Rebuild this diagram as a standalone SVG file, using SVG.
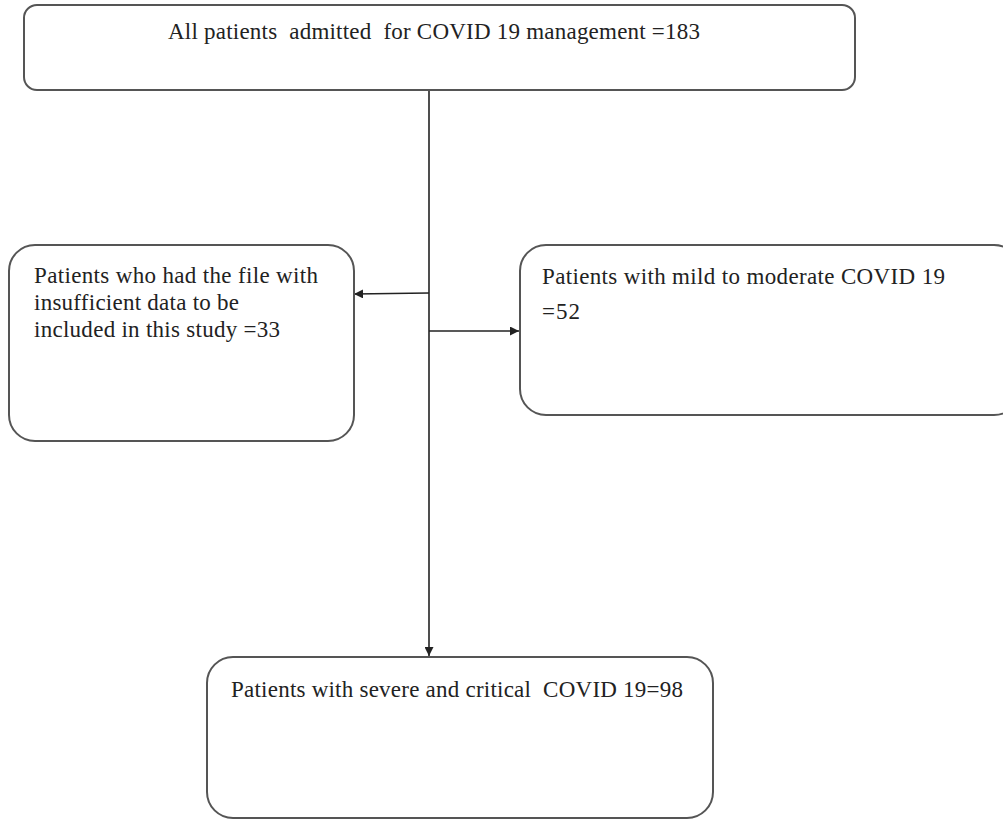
<svg xmlns="http://www.w3.org/2000/svg" width="1003" height="820" viewBox="0 0 1003 820">
<style>
.box{fill:#fff;stroke:#555;stroke-width:2}
.t{font-family:'Liberation Serif','DejaVu Serif',serif;font-size:23px;fill:#222}
.c{stroke:#222;stroke-width:1.6;fill:none}
</style>
<defs>
<marker id="ah" viewBox="0 0 10 10" refX="10" refY="5" markerWidth="9" markerHeight="9" markerUnits="userSpaceOnUse" orient="auto">
<path d="M0,0L10,5L0,10z" fill="#222"/>
</marker>
</defs>
<rect width="1003" height="820" fill="#fff"/>
<g id="connectors">
<line class="c" x1="429" y1="90" x2="429" y2="656" marker-end="url(#ah)"/>
<line class="c" x1="429" y1="293" x2="354" y2="294" marker-end="url(#ah)"/>
<line class="c" x1="429" y1="331" x2="519" y2="331" marker-end="url(#ah)"/>
</g>
<g id="n-all">
<rect class="box" x="24" y="5" width="831" height="85" rx="13"/>
<text class="t" x="168" y="39" textLength="532" xml:space="preserve">All patients  admitted  for COVID 19 management =183</text>
</g>
<g id="n-insufficient">
<rect class="box" x="9" y="245" width="345" height="196" rx="26"/>
<text class="t" x="34" y="283" textLength="284">Patients who had the file with</text>
<text class="t" x="34" y="310" textLength="205">insufficient data to be</text>
<text class="t" x="34" y="337" textLength="246">included in this study =33</text>
</g>
<g id="n-mild">
<rect class="box" x="520" y="245" width="500" height="170" rx="26"/>
<text class="t" x="542" y="284" textLength="403">Patients with mild to moderate COVID 19</text>
<text class="t" x="542" y="319" textLength="38">=52</text>
</g>
<g id="n-severe">
<rect class="box" x="207" y="657" width="506" height="161" rx="26"/>
<text class="t" x="231" y="697" textLength="452" xml:space="preserve">Patients with severe and critical  COVID 19=98</text>
</g>
</svg>
